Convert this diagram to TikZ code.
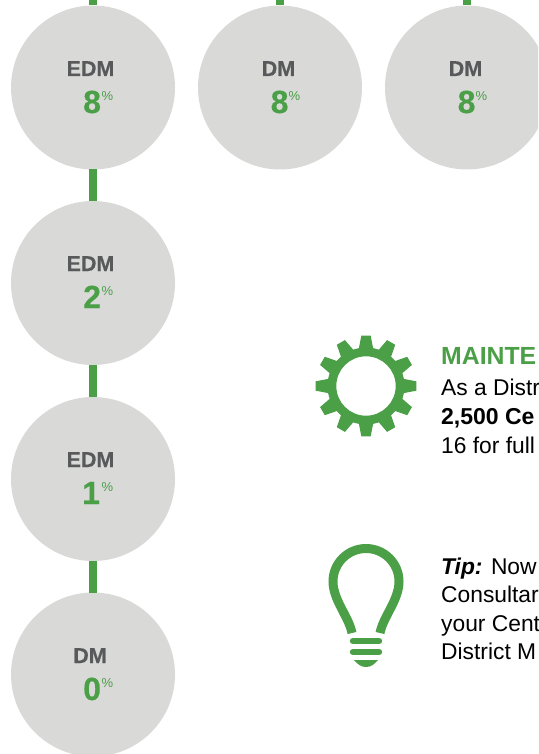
\documentclass[tikz,border=0pt]{standalone}
\usepackage{fontspec}
\setmainfont{Liberation Sans}
\newfontfamily\heavy[UprightFont=* Bold,FakeBold=0.35]{Liberation Sans}
\definecolor{brandgreen}{HTML}{4A9F47}
\definecolor{discgrey}{HTML}{D9D9D8}
\definecolor{labelgrey}{HTML}{58595B}
\newcommand{\fs}[1]{\fontsize{#1}{#1}\selectfont}
\tikzset{
  disc/.style={circle,fill=discgrey,minimum size=164pt,inner sep=0pt,outer sep=0pt},
  link/.style={draw=brandgreen,line width=8pt},
  rolelabel/.style={anchor=base,inner sep=0pt,text=labelgrey,font=\fs{21.5}\heavy},
  pctvalue/.style={anchor=base west,inner sep=0pt,text=brandgreen,font=\fs{32}\heavy},
  pctsign/.style={anchor=base west,inner sep=0pt,text=brandgreen,font=\fs{13}},
  para/.style={anchor=base west,inner sep=0pt,text=black,font=\fs{22.8}},
  iconline/.style={draw=brandgreen,line width=9pt},
  iconfill/.style={fill=brandgreen,draw=none},
}
\begin{document}
\begin{tikzpicture}[x=1pt,y=-1pt]
\useasboundingbox (0,0) rectangle (538,754);
\clip (0,0) rectangle (538,754);
% discs
\node[disc] (c1) at (93,87.5) {};
\node[disc] (c2) at (280,87.5) {};
\node[disc] (c3) at (467,87.5) {};
\node[disc] (c4) at (93,283) {};
\node[disc] (c5) at (93,479) {};
\node[disc] (c6) at (93,674.5) {};
\coordinate (t1) at (93,0);
\coordinate (t2) at (280,0);
\coordinate (t3) at (467,0);
% connectors
\draw[link] (t1) -- (c1);
\draw[link] (t2) -- (c2);
\draw[link] (t3) -- (c3);
\draw[link] (c1) -- (c4);
\draw[link] (c4) -- (c5);
\draw[link] (c5) -- (c6);
% labels
\node[rolelabel] (l1) at (90.5,76) {EDM};
\node[pctvalue] (v1) at (83,113) {8};
\node[pctsign] (p1) at (101.5,100.5) {\%};
\node[rolelabel] (l2) at (278.5,76) {DM};
\node[pctvalue] (v2) at (270.5,113) {8};
\node[pctsign] (p2) at (288.5,100.5) {\%};
\node[rolelabel] (l3) at (465.5,76) {DM};
\node[pctvalue] (v3) at (457.5,113) {8};
\node[pctsign] (p3) at (475.5,100.5) {\%};
\node[rolelabel] (l4) at (90.5,271) {EDM};
\node[pctvalue] (v4) at (83,308) {2};
\node[pctsign] (p4) at (101.5,295.5) {\%};
\node[rolelabel] (l5) at (90.5,467) {EDM};
\node[pctvalue] (v5) at (82,504) {1};
\node[pctsign] (p5) at (101.5,491.5) {\%};
\node[rolelabel] (l6) at (90,663) {DM};
\node[pctvalue] (v6) at (83,700) {0};
\node[pctsign] (p6) at (101.5,687.5) {\%};
% gear
\begin{scope}[shift={(366,386)}]
  \foreach \a in {0,30,...,330}{
    \fill[brandgreen,rotate=\a] (-8,-33) -- (-4.7,-50.3) -- (4.7,-50.3) -- (8,-33) -- cycle;
  }
  \fill[brandgreen,even odd rule] (0,0) circle[radius=38.5] (0,0) circle[radius=29.7];
\end{scope}
% bulb
\draw[iconline] (352,633) .. controls (349,617) and (333,600) .. (333,581.5)
  .. controls (333,563) and (348,548.5) .. (366,548.5)
  .. controls (384,548.5) and (399,563) .. (399,581.5)
  .. controls (399,600) and (383,617) .. (380,633);
\draw[brandgreen,line width=6.4pt,line cap=round] (353,641) -- (379,641);
\draw[brandgreen,line width=6.4pt,line cap=round] (353,652) -- (379,652);
\fill[iconfill] (354,660) -- (378,660) .. controls (374,664.5) and (371,667) .. (366,667) .. controls (361,667) and (358,664.5) .. (354,660) -- cycle;
% text
\node[anchor=base west,inner sep=0pt,text=brandgreen,font=\fs{24.8}\bfseries] (h1) at (441,364) {MAINTE};
\node[para] (a1) at (441,395) {As a Distr};
\node[para,font=\fs{23}\bfseries] (a2) at (441,424) {2,500 Ce};
\node[para] (a3) at (441,453) {16 for full};
\node[para] (b1) at (441,574) {\textbf{\textit{Tip:}} Now};
\node[para] (b2) at (441,602) {Consultar};
\node[para] (b3) at (441,631) {your Cent};
\node[para] (b4) at (441,659) {District M};
\end{tikzpicture}
\end{document}
